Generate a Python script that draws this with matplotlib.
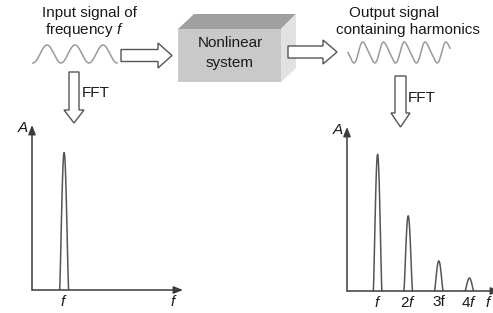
import numpy as np
import matplotlib

matplotlib.use("Agg")
import matplotlib.pyplot as plt
from matplotlib.patches import FancyArrow, Polygon

plt.rcParams["font.family"] = ["Liberation Sans", "DejaVu Sans"]
plt.rcParams["mathtext.fontset"] = "custom"
plt.rcParams["mathtext.rm"] = "Liberation Sans"
plt.rcParams["mathtext.it"] = "Liberation Sans:italic"

# spectrum data (frequency in units of f, amplitude normalised)
in_freqs = [1]
in_amps = [1.0]
out_freqs = [1, 2, 3, 4]
out_amps = [1.0, 0.55, 0.22, 0.095]
out_labels = ["$\\it{f}$", "2$\\it{f}$", "3f", "4$\\it{f}$"]
in_labels = ["$\\it{f}$"]

PEAK_HW = 0.14
TXT = "#1a1a1a"
AX_C = "#3c3c3c"
PEAK_C = "#555555"
WAVE_C = "#9a9a9a"
FS = 11
W, H = 493, 313


def peak(ax, f0, amp):
    u = np.linspace(-1, 1, 60)
    ax.plot(f0 + u * PEAK_HW, amp * np.cos(np.pi / 2 * u) ** 1.3, color=PEAK_C, lw=1.1)


def spectrum(rect, freqs, amps, labels, xmax, end_x):
    ax = fig.add_axes(rect)
    ax.set_xlim(0, xmax)
    ax.set_ylim(0, 1.2)
    for s in ax.spines.values():
        s.set_visible(False)
    ax.patch.set_alpha(0)
    arrow = dict(arrowstyle="-|>,head_length=0.55,head_width=0.22", color=AX_C, lw=1.1, shrinkA=0, shrinkB=0)
    ax.annotate("", xy=(1, 0), xytext=(0, 0), xycoords="axes fraction", arrowprops=arrow, annotation_clip=False)
    ax.annotate("", xy=(0, 1), xytext=(0, 0), xycoords="axes fraction", arrowprops=arrow, annotation_clip=False)
    for f0, a in zip(freqs, amps):
        peak(ax, f0, a)
    ax.set_xticks(freqs)
    ax.set_xticklabels(labels, fontsize=FS, color=TXT)
    ax.tick_params(length=0, pad=3)
    ax.set_yticks([])
    ax.text(end_x, -0.085, "$\\it{f}$", fontsize=FS, color=TXT, ha="center", va="center")
    ax.text(-0.02, 0.98, "$\\it{A}$", fontsize=FS, color=TXT, ha="right", va="center",
            transform=ax.transAxes)
    return ax


fig = plt.figure(figsize=(W / 100, H / 100), dpi=100)

# overlay in pixel coordinates for the block diagram
d = fig.add_axes([0, 0, 1, 1])
d.set_xlim(0, W)
d.set_ylim(H, 0)
d.axis("off")

# input wave
x = np.linspace(33, 117, 300)
th = -np.pi / 2 + 2 * np.pi * (x - 33) / 28
d.plot(x, 54 - 9 * np.sin(th), color=WAVE_C, lw=1.1)

# output wave (distorted)
x = np.linspace(348, 450, 300)
th = np.pi + 2 * np.pi * (x - 348) / 20.8
y = np.sin(th) + 0.15 * np.sin(2 * th)
d.plot(x, 52.5 - 10.5 * y / np.abs(y).max(), color=WAVE_C, lw=1.1)

# box
d.add_patch(Polygon([(178, 29), (194, 14), (296, 14), (281, 29)], closed=True, fc="#a0a0a0", ec="none"))
d.add_patch(Polygon([(281, 29), (296, 14), (296, 68), (281, 82)], closed=True, fc="#e2e2e2", ec="none"))
d.add_patch(Polygon([(178, 29), (281, 29), (281, 82), (178, 82)], closed=True, fc="#c9c9c9", ec="none"))
d.text(230, 43, "Nonlinear", fontsize=FS, color=TXT, ha="center", va="center")
d.text(230, 63, "system", fontsize=FS, color=TXT, ha="center", va="center")

# hollow block arrows
ak = dict(length_includes_head=True, fc="white", ec="#555555", lw=1.0)
d.add_patch(FancyArrow(121, 55.5, 51, 0, width=12, head_width=25, head_length=14, **ak))
d.add_patch(FancyArrow(288, 52, 49, 0, width=12, head_width=24, head_length=14, **ak))
d.add_patch(FancyArrow(74, 72, 0, 51, width=10, head_width=20, head_length=13, **ak))
d.add_patch(FancyArrow(400.5, 76, 0, 51, width=11, head_width=19, head_length=14, **ak))
d.text(82, 93, "FFT", fontsize=FS, color=TXT, ha="left", va="center")
d.text(408, 98, "FFT", fontsize=FS, color=TXT, ha="left", va="center")

# titles
d.text(89, 13, "Input signal of", fontsize=FS, color=TXT, ha="center", va="center")
d.text(84, 30, "frequency $\\it{f}$", fontsize=FS, color=TXT, ha="center", va="center")
d.text(394, 13, "Output signal", fontsize=FS, color=TXT, ha="center", va="center")
d.text(408, 30, "containing harmonics", fontsize=FS, color=TXT, ha="center", va="center")

# spectra
spectrum([32 / W, (H - 290) / H, (183 - 32) / W, (290 - 125) / H],
         in_freqs, in_amps, in_labels, 4.7, 4.4)
spectrum([347 / W, (H - 291) / H, (500 - 347) / W, (291 - 127) / H],
         out_freqs, out_amps, out_labels, 5.0, 4.62)

fig.savefig("out.png", dpi=100)
